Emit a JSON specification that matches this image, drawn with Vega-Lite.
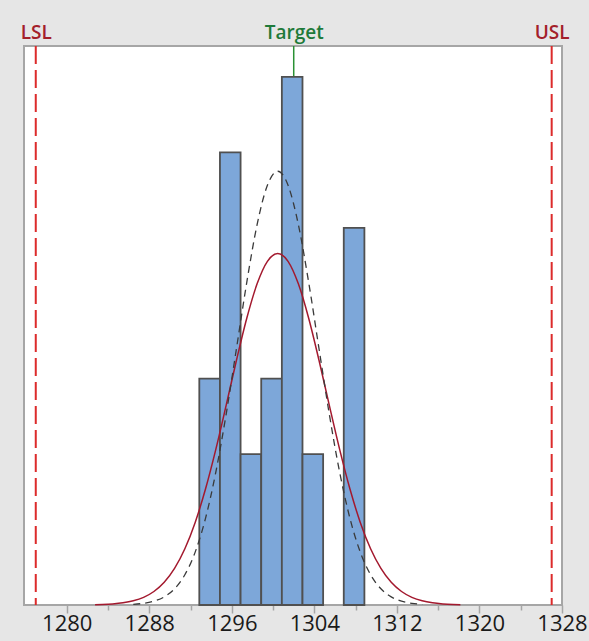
{
  "$schema": "https://vega.github.io/schema/vega-lite/v6.json",
  "width": 538,
  "height": 559,
  "autosize": {"type": "none"},
  "padding": {"left": 24, "top": 46, "right": 27, "bottom": 36},
  "background": "#e6e6e6",
  "config": {
    "view": {"fill": "white", "stroke": "#a6a6a6", "strokeWidth": 2},
    "font": "Open Sans"
  },
  "datasets": {
    "bars": [
      {"lo": 1292.85, "hi": 1294.85, "count": 3},
      {"lo": 1294.85, "hi": 1296.85, "count": 6},
      {"lo": 1296.85, "hi": 1298.85, "count": 2},
      {"lo": 1298.85, "hi": 1300.85, "count": 3},
      {"lo": 1300.85, "hi": 1302.85, "count": 7},
      {"lo": 1302.85, "hi": 1304.85, "count": 2},
      {"lo": 1306.85, "hi": 1308.85, "count": 5}
    ],
    "overall": [
      {"x": 1282.75, "y": 0.004},
      {"x": 1283.45, "y": 0.0067},
      {"x": 1284.45, "y": 0.0142},
      {"x": 1285.45, "y": 0.0286},
      {"x": 1286.45, "y": 0.0552},
      {"x": 1287.45, "y": 0.1016},
      {"x": 1288.45, "y": 0.179},
      {"x": 1289.45, "y": 0.301},
      {"x": 1290.45, "y": 0.485},
      {"x": 1291.45, "y": 0.745},
      {"x": 1292.45, "y": 1.095},
      {"x": 1293.45, "y": 1.537},
      {"x": 1294.45, "y": 2.063},
      {"x": 1295.45, "y": 2.646},
      {"x": 1296.45, "y": 3.244},
      {"x": 1297.45, "y": 3.801},
      {"x": 1298.45, "y": 4.257},
      {"x": 1299.45, "y": 4.556},
      {"x": 1300.45, "y": 4.66},
      {"x": 1301.45, "y": 4.556},
      {"x": 1302.45, "y": 4.257},
      {"x": 1303.45, "y": 3.801},
      {"x": 1304.45, "y": 3.244},
      {"x": 1305.45, "y": 2.646},
      {"x": 1306.45, "y": 2.063},
      {"x": 1307.45, "y": 1.537},
      {"x": 1308.45, "y": 1.095},
      {"x": 1309.45, "y": 0.745},
      {"x": 1310.45, "y": 0.485},
      {"x": 1311.45, "y": 0.301},
      {"x": 1312.45, "y": 0.179},
      {"x": 1313.45, "y": 0.1016},
      {"x": 1314.45, "y": 0.0552},
      {"x": 1315.45, "y": 0.0286},
      {"x": 1316.45, "y": 0.0142},
      {"x": 1317.45, "y": 0.0067},
      {"x": 1318.15, "y": 0.004}
    ],
    "within": [
      {"x": 1286.45, "y": 0.0091},
      {"x": 1287.45, "y": 0.0222},
      {"x": 1288.45, "y": 0.0506},
      {"x": 1289.45, "y": 0.1077},
      {"x": 1290.45, "y": 0.2148},
      {"x": 1291.45, "y": 0.401},
      {"x": 1292.45, "y": 0.701},
      {"x": 1293.45, "y": 1.149},
      {"x": 1294.45, "y": 1.761},
      {"x": 1295.45, "y": 2.528},
      {"x": 1296.45, "y": 3.398},
      {"x": 1297.45, "y": 4.277},
      {"x": 1298.45, "y": 5.042},
      {"x": 1299.45, "y": 5.564},
      {"x": 1300.45, "y": 5.75},
      {"x": 1301.45, "y": 5.564},
      {"x": 1302.45, "y": 5.042},
      {"x": 1303.45, "y": 4.277},
      {"x": 1304.45, "y": 3.398},
      {"x": 1305.45, "y": 2.528},
      {"x": 1306.45, "y": 1.761},
      {"x": 1307.45, "y": 1.149},
      {"x": 1308.45, "y": 0.701},
      {"x": 1309.45, "y": 0.401},
      {"x": 1310.45, "y": 0.2148},
      {"x": 1311.45, "y": 0.1077},
      {"x": 1312.45, "y": 0.0506},
      {"x": 1313.45, "y": 0.0222},
      {"x": 1314.45, "y": 0.0091}
    ],
    "limits": [
      {"name": "LSL", "value": 1277},
      {"name": "USL", "value": 1327}
    ],
    "target": [
      {"name": "Target", "value": 1302}
    ]
  },
  "layer": [
    {
      "data": {"name": "target"},
      "mark": {"type": "rule", "color": "#2a9134", "strokeWidth": 1.5},
      "encoding": {
        "x": {"field": "value", "type": "quantitative",
              "scale": {"domain": [1275.86, 1328], "nice": false, "zero": false},
              "axis": null}
      }
    },
    {
      "data": {"name": "limits"},
      "mark": {"type": "rule", "color": "#dc2b2b", "strokeWidth": 2, "strokeDash": [18, 6]},
      "encoding": {
        "x": {"field": "value", "type": "quantitative",
              "axis": {
                "orient": "top",
                "values": [1277, 1302, 1327],
                "labelExpr": "datum.value == 1277 ? 'LSL' : (datum.value == 1327 ? 'USL' : 'Target')",
                "labelColor": {"condition": {"test": "datum.value == 1302", "value": "#1f7a3a"}, "value": "#a3202a"},
                "labelFontSize": 19,
                "labelFontWeight": 600,
                "labelPadding": 4,
                "labelFlush": false,
                "labelOverlap": false,
                "ticks": false,
                "domain": false,
                "grid": false,
                "title": null
              }}
      }
    },
    {
      "data": {"name": "bars"},
      "mark": {"type": "rect", "fill": "#7da7d9", "stroke": "#505050", "strokeWidth": 1.8},
      "encoding": {
        "x": {"field": "lo", "type": "quantitative",
              "axis": {
                "orient": "bottom",
                "values": [1280, 1284, 1288, 1292, 1296, 1300, 1304, 1308, 1312, 1316, 1320, 1324, 1328],
                "format": "d",
                "labelExpr": "datum.value % 8 == 0 ? datum.label : ''",
                "labelFontSize": 22,
                "labelColor": "#1a1a1a",
                "labelPadding": 0,
                "labelFlush": false,
                "labelOverlap": false,
                "tickSize": {"condition": {"test": "datum.value % 8 == 0", "value": 8}, "value": 5},
                "tickColor": "#a6a6a6",
                "tickWidth": 1.5,
                "domain": false,
                "grid": false,
                "title": null
              }},
        "x2": {"field": "hi"},
        "y": {"field": "count", "type": "quantitative",
              "scale": {"domain": [0, 7.41], "nice": false}, "axis": null},
        "y2": {"datum": 0}
      }
    },
    {
      "data": {"name": "overall"},
      "mark": {"type": "line", "color": "#a3192e", "strokeWidth": 1.5, "interpolate": "monotone"},
      "encoding": {
        "x": {"field": "x", "type": "quantitative", "axis": null},
        "y": {"field": "y", "type": "quantitative", "axis": null}
      }
    },
    {
      "data": {"name": "within"},
      "mark": {"type": "line", "color": "#3a3a3a", "strokeWidth": 1.3, "strokeDash": [7, 5], "interpolate": "monotone"},
      "encoding": {
        "x": {"field": "x", "type": "quantitative", "axis": null},
        "y": {"field": "y", "type": "quantitative", "axis": null}
      }
    }
  ],
  "resolve": {"axis": {"x": "independent"}}
}
